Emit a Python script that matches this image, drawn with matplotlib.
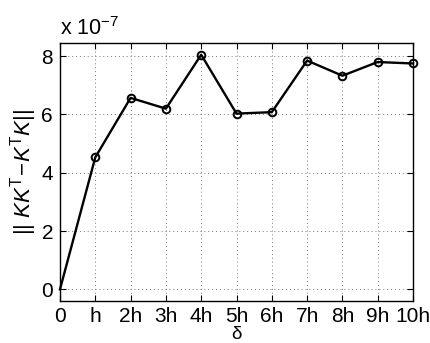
# ||KK^T - K^T K|| against delta
import matplotlib
matplotlib.use("Agg")
import matplotlib.pyplot as plt

steps = [0, 1, 2, 3, 4, 5, 6, 7, 8, 9, 10]
tick_labels = ["0", "h", "2h", "3h", "4h", "5h", "6h", "7h", "8h", "9h", "10h"]
# values in units of 1e-7
norms = [0.0, 4.53, 6.57, 6.2, 8.05, 6.03, 6.08, 7.85, 7.33, 7.8, 7.75]

plt.rcParams["font.family"] = ["Liberation Sans", "DejaVu Sans"]
plt.rcParams["mathtext.fontset"] = "custom"
plt.rcParams["mathtext.rm"] = "Liberation Sans"
plt.rcParams["mathtext.it"] = "Liberation Sans:italic"
plt.rcParams["mathtext.bf"] = "Liberation Sans:bold"

fig = plt.figure(figsize=(4.3, 3.43), dpi=100)
ax = fig.add_axes([0.1395, 0.1224, 0.821, 0.752])

ax.plot(steps, norms, color="black", linewidth=1.7, marker="o",
        markersize=5.5, markerfacecolor="none", markeredgewidth=1.4,
        markevery=list(range(1, 11)), clip_on=False, zorder=3)

ax.set_xlim(0, 10)
ax.set_ylim(-0.4, 8.45)
ax.set_xticks(steps)
ax.set_xticklabels(tick_labels)
ax.set_yticks([0, 2, 4, 6, 8])

ax.grid(True, linestyle=(0, (1, 3)), color="#777777", linewidth=0.7)
ax.tick_params(direction="in", top=True, right=True, length=4,
               width=0.8, labelsize=15, pad=5)
ax.tick_params(axis="x", pad=4)
for s in ax.spines.values():
    s.set_linewidth(1.0)

# delta label sits right at the bottom edge, as in the original
fig.text(0.55, 0.0, "δ", fontsize=13.5, ha="center", va="bottom")
ax.set_ylabel(r"$||\ KK^{\mathrm{T}}\!-\!K^{\mathrm{T}}K||$", fontsize=16, labelpad=2)

ax.text(0.0, 1.012, r"x 10$^{\mathrm{-7}}$", transform=ax.transAxes,
        fontsize=15.5, ha="left", va="bottom")

plt.savefig("out.png", dpi=100)
